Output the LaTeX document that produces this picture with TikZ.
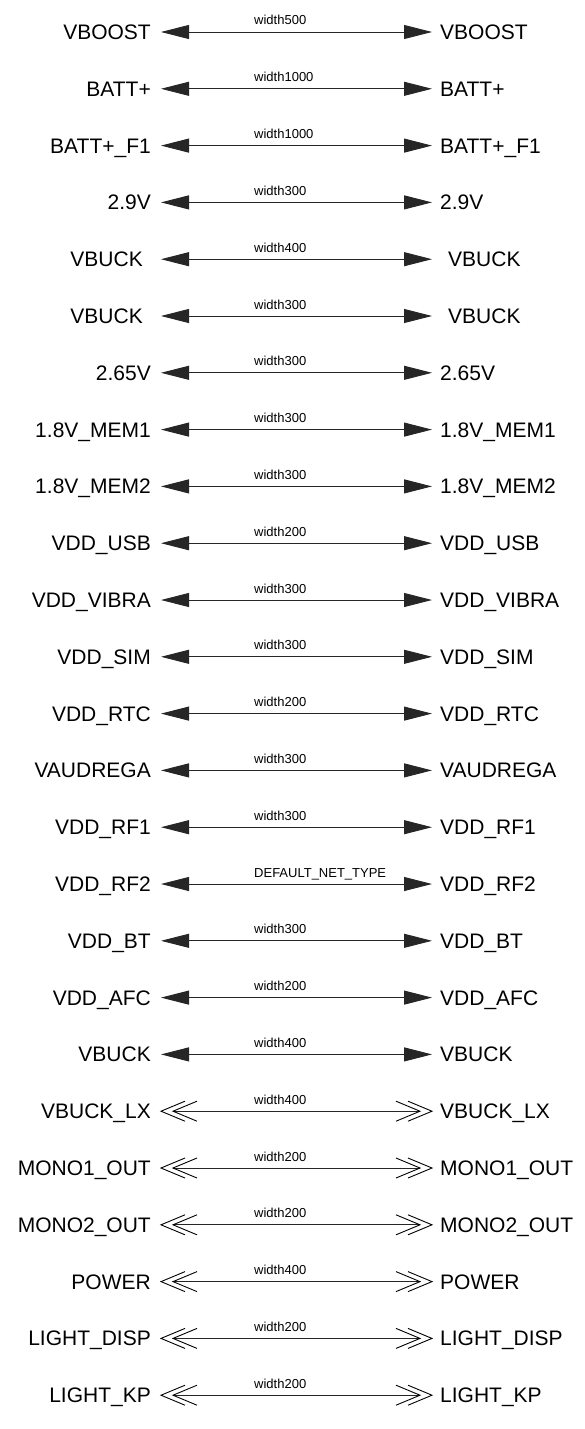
\documentclass[tikz,border=0pt]{standalone}
\usepackage{fontspec}
\setmainfont{Liberation Sans}
\usetikzlibrary{arrows.meta}
\begin{document}
\begin{tikzpicture}[x=1pt,y=-1pt,
  net/.style={font=\fontsize{21}{25}\selectfont, inner sep=0pt},
  wlab/.style={font=\fontsize{13}{15}\selectfont, inner sep=0pt, anchor=base west},
  conn/.style={line width=0.9pt, draw=black!85},
  solidtips/.style={{Triangle[length=28pt,width=14pt]}-{Triangle[length=28pt,width=14pt]}},
  chev/.style={line width=0.9pt, draw=black}
]
\fill[white] (0,0) rectangle (584,1429);
\foreach \i/\lab/\wid/\dx in {
  1/VBOOST/width500/0,
  2/BATT+/width1000/0,
  3/BATT+\_F1/width1000/0,
  4/2.9V/width300/0,
  5/VBUCK/width400/8,
  6/VBUCK/width300/8,
  7/2.65V/width300/0,
  8/1.8V\_MEM1/width300/0,
  9/1.8V\_MEM2/width300/0,
  10/VDD\_USB/width200/0,
  11/VDD\_VIBRA/width300/0,
  12/VDD\_SIM/width300/0,
  13/VDD\_RTC/width200/0,
  14/VAUDREGA/width300/0,
  15/VDD\_RF1/width300/0,
  16/VDD\_RF2/DEFAULT\_NET\_TYPE/0,
  17/VDD\_BT/width300/0,
  18/VDD\_AFC/width200/0,
  19/VBUCK/width400/0}{
  \pgfmathsetmacro\yy{32+(\i-1)*56.8}
  \node[net,anchor=base east] (L\i) at (151-\dx,\yy+7.5) {\lab};
  \node[net,anchor=base west] (R\i) at (440+\dx,\yy+7.5) {\lab};
  \coordinate (A\i) at (161,\yy);
  \coordinate (B\i) at (432,\yy);
  \draw[conn,solidtips] (A\i) -- (B\i);
  \node[wlab] (W\i) at (254,\yy-7) {\wid};
}
\foreach \i/\lab/\wid in {
  20/VBUCK\_LX/width400,
  21/MONO1\_OUT/width200,
  22/MONO2\_OUT/width200,
  23/POWER/width400,
  24/LIGHT\_DISP/width200,
  25/LIGHT\_KP/width200}{
  \pgfmathsetmacro\yy{32+(\i-1)*56.8}
  \node[net,anchor=base east] (L\i) at (151,\yy+7.5) {\lab};
  \node[net,anchor=base west] (R\i) at (440,\yy+7.5) {\lab};
  \coordinate (A\i) at (161,\yy);
  \coordinate (AI\i) at (173,\yy);
  \coordinate (B\i) at (432,\yy);
  \coordinate (BI\i) at (420,\yy);
  \draw[conn] (AI\i) -- (BI\i);
  \draw[chev] (A\i) ++(24,-10) -- (A\i) -- ++(24,10);
  \draw[chev] (AI\i) ++(24,-10) -- (AI\i) -- ++(24,10);
  \draw[chev] (B\i) ++(-24,-10) -- (B\i) -- ++(-24,10);
  \draw[chev] (BI\i) ++(-24,-10) -- (BI\i) -- ++(-24,10);
  \node[wlab] (W\i) at (254,\yy-7) {\wid};
}
\end{tikzpicture}
\end{document}
